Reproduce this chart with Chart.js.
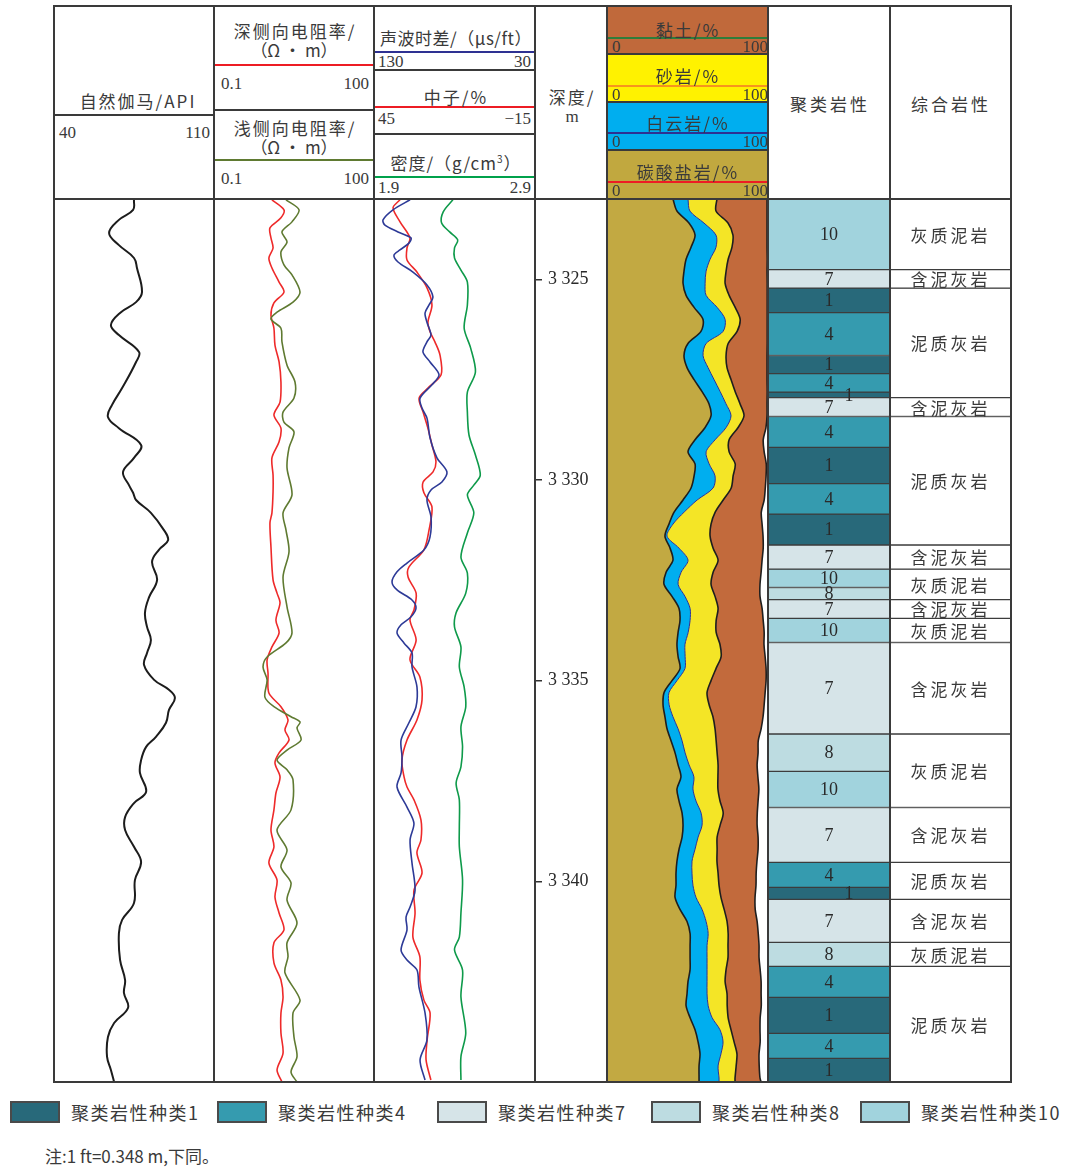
<!DOCTYPE html>
<html lang="zh">
<head>
<meta charset="utf-8">
<title>测井综合解释图</title>
<script src="https://cdn.jsdelivr.net/npm/chart.js@4.4.1/dist/chart.umd.min.js"></script>
<style>
  html, body { margin: 0; padding: 0; background: #fff; }
  #page { position: relative; width: 1070px; height: 1167px; overflow: hidden;
          font-family: "Noto Sans CJK SC", "Noto Sans", sans-serif; color: #3a3a3a; }
  #page canvas { position: absolute; z-index: 3; }
  .ln { position: absolute; z-index: 5; }
  .bg { position: absolute; z-index: 2; }
  .tx { position: absolute; white-space: nowrap; z-index: 6; line-height: 1; }
</style>
</head>
<body>
<div id="page"></div>
<script>
// ---------------- depth range & ticks ----------------
const DEPTH_TOP = 3323;
const DEPTH_BASE = 3345;
const depthTicks = [3325, 3330, 3335, 3340];

// ---------------- natural gamma (API) ----------------
const grDepth = [3323.02,3323.27,3323.52,3323.85,3324.15,3324.47,3324.72,3325.32,3325.57,3325.82,
  3326.14,3326.39,3326.81,3327.06,3327.71,3328.13,3328.43,3328.71,3329.13,3329.45,
  3329.80,3330.13,3330.32,3330.50,3330.82,3331.25,3331.50,3331.74,3332.04,3332.49,
  3332.92,3333.31,3333.66,3333.99,3334.31,3334.61,3334.98,3335.23,3335.43,3335.73,
  3336.05,3336.40,3336.65,3336.98,3337.30,3337.77,3338.05,3338.40,3338.72,3339.14,
  3339.52,3339.97,3340.54,3340.96,3341.29,3341.96,3342.46,3342.78,3343.15,3343.53,
  3343.88,3344.37,3344.70,3345.00];
const grValue = [75.0,74.6,68.4,64.1,68.4,75.0,76.3,78.5,75.9,69.3,
  64.9,68.4,77.2,75.9,69.8,65.4,63.6,68.4,78.1,75.0,
  70.2,72.8,74.6,75.9,82.4,88.1,89.9,85.9,82.9,85.1,
  81.6,79.8,80.7,82.4,80.7,79.4,83.8,90.3,92.9,90.3,
  89.0,84.6,80.3,78.1,77.6,80.3,75.0,71.1,71.1,75.0,
  78.1,75.4,75.0,69.8,68.4,68.9,71.1,70.6,72.4,66.3,
  63.6,63.2,64.9,66.3];

// ---------------- deep laterolog resistivity (Ω·m) ----------------
const rdDepth = [3323.02,3323.27,3323.47,3323.72,3323.97,3324.22,3324.47,3324.72,3325.07,3325.32,
  3325.59,3325.89,3326.22,3326.64,3327.06,3327.56,3328.06,3328.38,3328.71,3329.05,
  3329.45,3329.88,3330.30,3330.82,3331.07,3331.67,3332.49,3332.82,3333.06,3333.49,
  3333.81,3334.16,3334.48,3334.81,3335.31,3335.65,3335.98,3336.23,3336.48,3336.80,
  3337.05,3337.40,3337.80,3338.22,3338.72,3339.14,3339.54,3339.97,3340.39,3340.79,
  3341.21,3341.53,3342.03,3342.46,3342.88,3343.28,3343.78,3344.28,3344.70,3345.00];
const rdValue = [1.22,2.05,1.80,1.12,1.17,1.28,1.07,1.22,1.66,2.05,
  1.33,1.17,1.33,1.39,1.66,1.80,1.73,1.33,1.80,1.66,
  1.22,1.28,1.28,1.22,1.12,1.17,1.28,1.52,1.73,1.45,
  1.66,1.22,0.99,1.03,1.07,1.80,2.44,2.14,2.55,1.66,
  1.39,1.73,1.45,1.33,1.17,1.33,1.07,1.52,1.39,1.66,
  2.05,1.33,1.33,1.80,1.97,1.80,1.80,1.97,1.52,1.88];

// ---------------- shallow laterolog resistivity (Ω·m) ----------------
const rsDepth = [3323.02,3323.27,3323.57,3323.82,3324.07,3324.32,3324.64,3324.89,3325.32,3325.57,
  3325.82,3325.99,3326.22,3326.56,3327.14,3327.56,3327.96,3328.31,3328.56,3328.80,
  3329.20,3329.70,3330.37,3330.82,3331.25,3331.79,3332.42,3333.16,3333.81,3334.06,
  3334.41,3334.66,3334.98,3335.41,3335.65,3335.90,3336.03,3336.18,3336.48,3336.73,
  3336.98,3337.22,3337.47,3338.22,3338.72,3339.22,3339.64,3340.04,3340.47,3341.04,
  3341.53,3341.88,3342.28,3342.96,3343.28,3343.88,3344.37,3344.75,3345.00];
const rsValue = [2.24,3.93,2.90,1.88,2.34,1.80,2.05,2.90,4.10,3.03,
  1.52,1.17,1.80,1.88,2.34,3.30,3.16,1.97,2.05,3.16,
  2.55,2.34,2.90,1.97,2.24,2.55,1.97,2.34,2.90,2.24,
  0.99,0.83,0.99,0.90,1.33,2.78,4.10,3.60,4.28,2.34,
  1.52,2.34,3.03,2.78,1.52,2.34,1.80,2.78,2.34,3.60,
  2.34,2.44,2.14,4.10,3.03,3.16,3.60,2.78,3.60];

// ---------------- acoustic slowness (μs/ft) ----------------
const acDepth = [3323.02,3323.27,3323.52,3323.65,3323.82,3323.97,3324.10,3324.27,3324.40,3324.57,
  3324.82,3325.14,3325.44,3325.64,3325.84,3326.07,3326.39,3326.56,3326.81,3327.06,
  3327.38,3327.63,3327.96,3328.21,3328.46,3328.95,3329.45,3329.80,3330.05,3330.25,
  3330.50,3330.92,3331.42,3331.74,3332.07,3332.29,3332.54,3332.74,3332.99,3333.19,
  3333.41,3333.61,3333.81,3334.06,3334.31,3334.66,3335.16,3335.65,3336.05,3336.48,
  3336.90,3337.30,3337.65,3338.15,3338.55,3338.97,3339.54,3340.22,3340.64,3340.89,
  3341.21,3341.71,3341.96,3342.21,3342.63,3343.28,3343.95,3344.45,3344.95];
const acValue = [107.6,118.2,124.4,123.2,115.1,107.0,108.3,113.9,117.6,115.1,
  105.8,97.1,93.4,95.8,98.3,97.1,94.6,97.1,99.6,95.2,
  89.6,94.0,101.4,100.2,97.1,95.2,90.9,84.7,87.8,94.6,
  97.1,94.6,95.2,98.9,109.5,115.7,118.8,115.7,106.4,103.9,
  107.0,113.2,115.7,111.4,106.4,106.4,103.3,103.9,108.3,113.2,
  112.6,113.2,115.7,109.5,105.2,107.6,106.4,104.5,107.6,110.1,
  109.5,113.2,109.5,103.3,102.1,98.3,97.1,101.4,98.3];

// ---------------- neutron porosity (%) ----------------
const cnDepth = [3323.02,3323.22,3323.57,3323.97,3324.22,3324.52,3324.82,3325.22,3325.64,3326.07,
  3326.31,3326.56,3326.89,3327.38,3327.71,3327.96,3328.31,3328.71,3329.13,3329.55,
  3329.80,3330.05,3330.32,3330.67,3331.25,3331.74,3332.17,3332.42,3332.82,3333.24,
  3333.49,3333.99,3334.48,3334.91,3335.48,3335.98,3336.48,3336.98,3337.40,3337.65,
  3337.97,3338.47,3338.97,3339.29,3339.79,3340.22,3340.79,3341.39,3341.88,3342.46,
  3342.96,3343.28,3343.95,3344.45,3344.95];
const cnValue = [35.3,37.9,35.3,31.6,32.7,32.7,29.0,25.2,23.4,24.9,
  24.1,22.3,20.4,20.0,24.9,28.2,26.7,24.9,23.4,21.9,
  23.0,26.7,26.4,23.4,24.5,26.4,32.0,32.3,29.3,30.1,
  31.6,29.3,31.6,27.9,27.1,29.0,32.7,34.6,33.8,32.7,
  30.1,27.5,27.5,29.0,27.1,30.1,29.7,30.5,27.9,27.9,
  26.4,24.1,25.2,25.6,23.8];

// ---------------- bulk density (g/cm³) ----------------
const denDepth = [3323.02,3323.32,3323.60,3323.82,3324.02,3324.22,3324.47,3324.77,3325.07,3325.64,
  3326.22,3326.71,3327.31,3327.81,3328.31,3328.88,3329.38,3329.88,3330.13,3330.37,
  3330.82,3331.32,3331.92,3332.32,3332.82,3333.31,3333.66,3334.16,3334.66,3335.16,
  3335.65,3336.15,3336.65,3337.15,3337.55,3337.97,3338.64,3339.14,3339.97,3340.79,
  3341.39,3341.71,3342.21,3342.88,3343.78,3344.37,3344.95];
const denValue = [2.39,2.33,2.32,2.37,2.42,2.40,2.40,2.44,2.48,2.48,
  2.46,2.50,2.53,2.48,2.48,2.49,2.53,2.56,2.52,2.48,
  2.52,2.48,2.44,2.48,2.47,2.41,2.40,2.44,2.43,2.46,
  2.47,2.44,2.45,2.44,2.41,2.43,2.43,2.43,2.45,2.44,
  2.43,2.40,2.45,2.44,2.47,2.44,2.44];

// ---------------- mineral composition (%) ----------------
const compDepth = [3323.0,3323.3,3323.6,3323.9,3324.2,3324.5,3324.8,3325.1,3325.4,3325.7,
  3326.0,3326.3,3326.6,3326.9,3327.2,3327.5,3327.8,3328.1,3328.4,3328.7,
  3329.0,3329.3,3329.6,3329.9,3330.2,3330.5,3330.8,3331.1,3331.4,3331.7,
  3332.0,3332.3,3332.6,3332.9,3333.2,3333.5,3333.8,3334.1,3334.4,3334.7,
  3335.0,3335.3,3335.6,3335.9,3336.2,3336.5,3336.8,3337.1,3337.4,3337.7,
  3338.0,3338.3,3338.6,3338.9,3339.2,3339.5,3339.8,3340.1,3340.4,3340.7,
  3341.0,3341.3,3341.6,3341.9,3342.2,3342.5,3342.8,3343.1,3343.4,3343.7,
  3344.0,3344.3,3344.6,3344.9,3345.0];
const carbonatePct = [40.6,43.1,50.6,54.4,51.9,48.8,47.5,46.9,48.8,53.8,
  59.4,58.1,50.0,47.5,49.4,53.8,58.8,63.1,64.4,60.6,
  54.4,50.0,54.4,53.8,51.9,46.9,41.3,38.1,35.6,38.8,
  40.6,36.3,35.0,40.0,44.4,45.0,43.8,43.1,43.8,45.0,
  40.0,35.0,34.4,35.6,36.9,39.4,41.9,43.8,45.6,43.1,
  44.4,46.3,46.9,46.3,44.4,43.1,42.5,42.5,41.9,45.0,
  49.4,51.3,51.3,51.3,51.3,50.0,49.4,48.8,51.3,54.4,
  56.3,57.5,56.9,56.9,56.9];
const dolomitePct = [9.4,8.1,9.4,13.1,15.6,15.0,13.8,13.8,12.5,14.4,
  13.8,13.8,11.3,11.9,13.1,12.5,11.3,10.6,12.5,13.1,
  12.5,11.3,8.8,13.1,13.8,8.8,6.3,2.5,1.3,5.6,
  9.4,9.4,8.8,8.1,6.9,6.3,6.3,5.0,4.4,3.1,
  3.1,3.1,3.8,5.0,6.9,6.9,6.3,6.9,8.1,10.0,
  10.6,11.9,11.9,10.0,10.0,9.4,10.0,10.6,13.1,13.8,
  11.9,11.3,10.6,10.6,10.6,11.9,12.5,13.8,13.8,15.6,
  15.6,13.1,11.9,12.5,12.5];
const sandstonePct = [18.1,16.3,15.0,10.6,10.0,11.3,12.5,12.5,14.4,11.3,
  9.4,8.8,13.8,14.4,11.9,10.6,9.4,8.8,8.1,7.5,
  8.8,14.4,16.3,11.3,11.3,16.3,19.4,23.8,26.9,21.3,
  18.8,20.0,20.6,18.8,17.5,16.3,17.5,21.9,22.5,19.4,
  21.3,23.8,25.0,25.0,23.1,21.3,20.0,18.1,15.0,15.6,
  15.0,13.8,11.3,11.9,13.8,15.6,16.3,16.3,15.6,13.8,
  13.1,12.5,13.1,13.1,11.9,11.3,12.5,11.9,10.0,6.9,
  6.9,10.0,11.3,10.0,10.0];
const clayPct = [31.3,31.9,24.4,21.3,21.9,24.4,25.6,26.3,23.8,20.0,
  16.9,18.8,24.4,25.6,25.0,22.5,20.0,16.9,14.4,17.5,
  21.3,21.9,19.4,20.6,21.3,25.6,28.8,31.9,33.1,31.3,
  27.5,30.0,30.6,28.1,27.5,29.4,30.0,27.5,27.5,31.3,
  34.4,36.3,34.4,31.3,28.8,26.3,25.6,24.4,25.0,25.6,
  23.8,21.3,23.1,25.6,25.6,25.0,23.8,23.1,21.3,19.4,
  18.8,18.8,19.4,19.4,21.3,22.5,21.3,21.3,20.0,18.1,
  16.3,13.8,14.4,15.6,16.3];

// ---------------- clustered lithology ----------------
const clusterDepth = [3323.00,3324.76,3325.22,3325.83,3326.90,3327.35,3327.81,3327.95,3328.42,3329.19,
  3330.09,3330.85,3331.62,3332.22,3332.68,3332.98,3333.45,3334.05,3336.33,3337.26,
  3338.16,3339.53,3340.15,3340.45,3341.52,3342.12,3342.89,3343.79,3344.41,3345.00];
const clusterClass = [10,7,1,4,1,4,1,7,4,1,4,1,7,10,8,7,10,7,8,10,7,4,1,7,8,4,1,4,1];
const legendClasses = [1, 4, 7, 8, 10];

// ---------------- integrated lithology ----------------
const lithDepth = [3323.00,3324.76,3325.22,3327.95,3328.42,3331.62,3332.22,3332.98,3333.45,3334.05,
  3336.33,3338.16,3339.53,3340.45,3341.52,3342.12,3345.00];
const lithName = ['灰质泥岩','含泥灰岩','泥质灰岩','含泥灰岩','泥质灰岩','含泥灰岩','灰质泥岩','含泥灰岩',
  '灰质泥岩','含泥灰岩','灰质泥岩','含泥灰岩','泥质灰岩','含泥灰岩','灰质泥岩','泥质灰岩'];

// ---------------- styling ----------------
const CLASS_COLORS = {1: '#28697A', 4: '#359BAF', 7: '#D6E4E8', 8: '#BDDCE1', 10: '#A1D3DD'};
const DARK_CLASSES = [1];
const LINE = '#3a3a3a';
const SERIF = '"Liberation Serif", "Times New Roman", serif';
const CJK = '"Noto Sans CJK SC", sans-serif';

const page = document.getElementById('page');

function rect(x, y, w, h, color, cls) {
  const d = document.createElement('div');
  d.className = cls || 'ln';
  Object.assign(d.style, {left: x + 'px', top: y + 'px', width: w + 'px', height: h + 'px', background: color});
  page.appendChild(d);
  return d;
}
function hLine(x1, x2, y, color = LINE, w = 2) { return rect(x1, y - w / 2, x2 - x1, w, color); }
function vLine(x, y1, y2, color = LINE, w = 2) { return rect(x - w / 2, y1, w, y2 - y1, color); }
function text(s, x, y, align = 'center', o = {}) {
  const d = document.createElement('div');
  d.className = 'tx';
  d.textContent = s;
  const tx = align === 'center' ? '-50%' : align === 'right' ? '-100%' : '0';
  Object.assign(d.style, {
    left: x + 'px', top: y + 'px', transform: `translate(${tx},-50%)`,
    fontSize: (o.size || 17) + 'px',
    letterSpacing: (o.ls != null ? o.ls : 2) + 'px',
    fontFamily: o.serif ? SERIF : CJK,
    color: o.color || '#3a3a3a'
  });
  page.appendChild(d);
  return d;
}
function num(s, x, y, align) { return text(s, x, y, align, {serif: true, ls: 0, size: 17}); }

// ---------------- header ----------------
// composition colour boxes
rect(607, 6, 161, 48, '#C0693B', 'bg');
rect(607, 54, 161, 48, '#FFF200', 'bg');
rect(607, 102, 161, 48, '#00AEEF', 'bg');
rect(607, 150, 161, 49, '#C1A83F', 'bg');

// track 1
text('自然伽马/API', 138, 100);
num('40', 59, 132, 'left'); num('110', 210, 132, 'right');
hLine(54, 214, 115);
// track 2
text('深侧向电阻率/', 295, 30);
text('（Ω • m）', 294, 49, 'center', {ls: 0});
hLine(214, 374, 65, '#ED1C24');
num('0.1', 221, 83, 'left'); num('100', 369, 83, 'right');
hLine(214, 374, 110);
text('浅侧向电阻率/', 295, 127);
text('（Ω • m）', 294, 146, 'center', {ls: 0});
hLine(214, 374, 160, '#5F7A31');
num('0.1', 221, 178, 'left'); num('100', 369, 178, 'right');
// track 3
text('声波时差/（μs/ft）', 456, 37, 'center', {ls: 0.5});
hLine(374, 535, 52, '#2E3192');
num('130', 378, 61, 'left'); num('30', 531, 61, 'right');
hLine(374, 535, 70);
text('中子/%', 456, 96);
hLine(374, 535, 107, '#ED1C24');
num('45', 378, 118, 'left'); num('−15', 531, 118, 'right');
hLine(374, 535, 134);
const denTitle = text('', 456, 162, 'center', {ls: 1});
denTitle.innerHTML = '密度/（g/cm<sup style="font-size:10px">3</sup>）';
hLine(374, 535, 177, '#00A14B');
num('1.9', 378, 187, 'left'); num('2.9', 531, 187, 'right');
// track 4
text('深度/', 572, 96);
text('m', 572, 116, 'center', {serif: true, ls: 0});
// track 5
text('黏土/%', 688, 29);
hLine(607, 768, 38, '#2E7D3A');
num('0', 612, 46, 'left'); num('100', 768, 46, 'right');
hLine(607, 768, 54);
text('砂岩/%', 688, 75);
hLine(607, 768, 86, '#F7941D');
num('0', 612, 94, 'left'); num('100', 768, 94, 'right');
hLine(607, 768, 102);
text('白云岩/%', 688, 122);
hLine(607, 768, 133, '#2E3192');
num('0', 612, 141, 'left'); num('100', 768, 141, 'right');
hLine(607, 768, 150);
text('碳酸盐岩/%', 688, 171);
hLine(607, 768, 182, '#ED1C24');
num('0', 612, 190, 'left'); num('100', 768, 190, 'right');
// tracks 6, 7
text('聚类岩性', 830, 103, 'center', {ls: 3});
text('综合岩性', 951, 103, 'center', {ls: 3});

// frame
hLine(53, 1012, 6); hLine(53, 1012, 199); hLine(53, 1012, 1082);
[54, 214, 374, 535, 607, 768, 890, 1011].forEach(x => vLine(x, 5, 1083));

// ---------------- charts ----------------
function makeCanvas(x, y, w, h) {
  const c = document.createElement('canvas');
  c.width = w; c.height = h;
  Object.assign(c.style, {left: x + 'px', top: y + 'px', width: w + 'px', height: h + 'px'});
  page.appendChild(c);
  return c;
}
const TRACK_TOP = 199, TRACK_H = 883;

const baseOptions = () => ({
  responsive: false, maintainAspectRatio: false, animation: false, devicePixelRatio: 1,
  events: [], layout: {padding: 0, autoPadding: false},
  plugins: {legend: {display: false}, tooltip: {enabled: false}}
});
const depthAxis = () => ({type: 'linear', min: DEPTH_TOP, max: DEPTH_BASE, reverse: true, display: false});

function curve(depths, values, color, width, axisId, tension) {
  return {
    data: depths.map((d, i) => ({x: values[i], y: d})),
    borderColor: color, borderWidth: width, pointRadius: 0, fill: false,
    tension: tension, xAxisID: axisId, yAxisID: 'y'
  };
}

// track 1: natural gamma
new Chart(makeCanvas(54, TRACK_TOP, 160, TRACK_H), {
  type: 'line',
  data: {datasets: [curve(grDepth, grValue, '#1c1c1c', 2, 'x', 0.4)]},
  options: Object.assign(baseOptions(), {
    indexAxis: 'y',
    scales: {x: {type: 'linear', min: 40, max: 110, display: false}, y: depthAxis()}
  })
});

// track 2: resistivity (log)
new Chart(makeCanvas(214, TRACK_TOP, 160, TRACK_H), {
  type: 'line',
  data: {datasets: [
    curve(rsDepth, rsValue, '#5F7A31', 1.6, 'x', 0.3),
    curve(rdDepth, rdValue, '#EE2A2A', 1.6, 'x', 0.3)
  ]},
  options: Object.assign(baseOptions(), {
    indexAxis: 'y',
    scales: {x: {type: 'logarithmic', min: 0.1, max: 100, display: false}, y: depthAxis()}
  })
});

// track 3: acoustic / neutron / density, with the depth scale on its right
const depthLabel = v => String(v).replace(/(\d)(\d{3})$/, '$1 $2');
new Chart(makeCanvas(374, TRACK_TOP, 233, TRACK_H), {
  type: 'line',
  data: {datasets: [
    curve(denDepth, denValue, '#0E9A4A', 1.6, 'xDen', 0.3),
    curve(acDepth, acValue, '#2D3A97', 1.6, 'xAc', 0.3),
    curve(cnDepth, cnValue, '#EE2A2A', 1.6, 'xCn', 0.3)
  ]},
  options: Object.assign(baseOptions(), {
    indexAxis: 'y',
    scales: {
      xAc: {type: 'linear', axis: 'x', min: 30, max: 130, reverse: true, display: false},
      xCn: {type: 'linear', axis: 'x', min: -15, max: 45, reverse: true, display: false},
      xDen: {type: 'linear', axis: 'x', min: 1.9, max: 2.9, display: false},
      y: {
        type: 'linear', min: DEPTH_TOP, max: DEPTH_BASE, reverse: true, position: 'right',
        afterFit: s => { s.width = 72; s.paddingTop = 0; s.paddingBottom = 0; },
        afterBuildTicks: s => { s.ticks = depthTicks.map(v => ({value: v})); },
        border: {display: false},
        grid: {drawOnChartArea: false, drawTicks: true, tickLength: 7, color: '#333', lineWidth: 1.5},
        ticks: {padding: 6, color: '#2a2a2a', font: {family: SERIF, size: 18}, callback: depthLabel}
      }
    }
  })
});

// track 5: stacked mineral composition
function layer(values, fillColor, lineColor, lineWidth, fill) {
  return {
    data: compDepth.map((d, i) => ({x: values[i], y: d})),
    backgroundColor: fillColor, borderColor: lineColor, borderWidth: lineWidth,
    pointRadius: 0, tension: 0.3, fill: fill
  };
}
new Chart(makeCanvas(608, TRACK_TOP, 160, TRACK_H), {
  type: 'line',
  data: {datasets: [
    layer(carbonatePct, '#C2A942', '#1e1e1e', 1.6, 'origin'),
    layer(dolomitePct, '#00AEEF', '#2E3192', 1, '-1'),
    layer(sandstonePct, '#F4E526', '#1e1e1e', 1.6, '-1'),
    layer(clayPct, '#C26A3C', '#1e1e1e', 1.6, '-1')
  ]},
  options: Object.assign(baseOptions(), {
    indexAxis: 'y',
    scales: {x: {type: 'linear', min: 0, max: 100, stacked: true, display: false}, y: depthAxis()}
  })
});

// labels written in the middle of each interval bar; labels of thin dark
// bars are moved aside so they stay readable
function intervalLabels(font, color, spacing, thinShift, shiftable) {
  return {
    id: 'intervalLabels',
    afterDatasetsDraw(chart) {
      const ctx = chart.ctx;
      ctx.save();
      ctx.font = font; ctx.fillStyle = color;
      ctx.textAlign = 'center'; ctx.textBaseline = 'middle';
      if ('letterSpacing' in ctx) ctx.letterSpacing = spacing;
      chart.data.datasets.forEach((ds, i) => {
        const bar = chart.getDatasetMeta(i).data[0];
        if (!bar) return;
        const top = Math.min(bar.y, bar.base), bot = Math.max(bar.y, bar.base);
        const thin = bot - top < 13 && shiftable(ds.label);
        ctx.fillText(ds.label, bar.x + (thin ? thinShift : 0), (top + bot) / 2 + 1);
      });
      ctx.restore();
    }
  };
}
function intervalChart(canvas, depths, labels, colors, category, plugin) {
  return new Chart(canvas, {
    type: 'bar',
    data: {
      labels: [category],
      datasets: labels.map((lab, i) => ({
        label: String(lab),
        data: [[depths[i], depths[i + 1]]],
        backgroundColor: colors[i], borderColor: '#3d3d3d', borderWidth: 1,
        borderSkipped: false, grouped: false, barPercentage: 1, categoryPercentage: 1
      }))
    },
    options: Object.assign(baseOptions(), {
      scales: {x: {type: 'category', display: false}, y: depthAxis()}
    }),
    plugins: [plugin]
  });
}

// track 6: clustered lithology
intervalChart(makeCanvas(768, TRACK_TOP, 122, TRACK_H), clusterDepth, clusterClass,
  clusterClass.map(c => CLASS_COLORS[c]), '聚类岩性',
  intervalLabels('18px ' + SERIF, '#2a2a2a', '0px', 20, lab => DARK_CLASSES.includes(Number(lab))));

// track 7: integrated lithology
intervalChart(makeCanvas(890, TRACK_TOP, 121, TRACK_H), lithDepth, lithName,
  lithName.map(() => '#ffffff'), '综合岩性',
  intervalLabels('17px ' + CJK, '#3a3a3a', '3px', 0, () => false));

// ---------------- legend & note ----------------
const swatchX = [10, 217, 437, 651, 860];
legendClasses.forEach((c, i) => {
  const sw = rect(swatchX[i], 1101, 50, 22, CLASS_COLORS[c], 'bg');
  sw.style.boxSizing = 'border-box';
  sw.style.border = '2px solid #4a4a4a';
  text('聚类岩性种类' + c, swatchX[i] + 61, 1112, 'left', {size: 18, ls: 1.5});
});
text('注:1 ft=0.348 m,下同。', 45, 1155, 'left', {size: 17, ls: 0});
</script>
</body>
</html>
